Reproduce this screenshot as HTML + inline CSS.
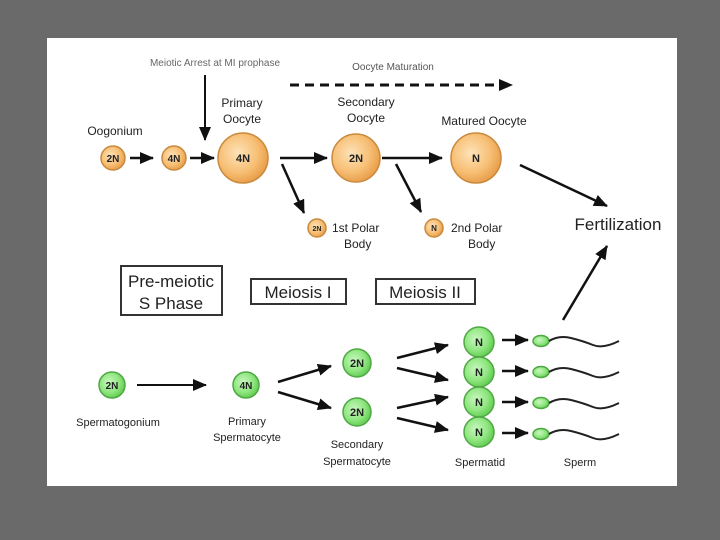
<!DOCTYPE html>
<html><head><meta charset="utf-8"><style>
html,body{margin:0;padding:0;width:720px;height:540px;overflow:hidden;background:#6a6a6a;}
svg{display:block}
text{font-family:"Liberation Sans",Arial,sans-serif;fill:#222}
</style></head><body>
<svg width="720" height="540" viewBox="0 0 720 540" xmlns="http://www.w3.org/2000/svg">
<defs>
<marker id="a" markerWidth="8" markerHeight="8" refX="7" refY="4" orient="auto" markerUnits="userSpaceOnUse"><path d="M0,0 L8,4 L0,8 z" fill="#111"/></marker>
<marker id="b" markerWidth="14" markerHeight="12" refX="13" refY="6" orient="auto" markerUnits="userSpaceOnUse"><path d="M0,0 L14,6 L0,12 z" fill="#111"/></marker>
<radialGradient id="o" cx="40%" cy="40%" r="65%"><stop offset="0" stop-color="#fde3b8"/><stop offset="0.6" stop-color="#f7bf75"/><stop offset="1" stop-color="#e79a45"/></radialGradient>
<radialGradient id="g" cx="40%" cy="40%" r="65%"><stop offset="0" stop-color="#c9f7c0"/><stop offset="0.6" stop-color="#8fe67f"/><stop offset="1" stop-color="#5cc94c"/></radialGradient>
</defs>
<rect x="47" y="38" width="630" height="448" fill="#fff"/>
<g stroke="#111" stroke-width="2.5" fill="none">
<line x1="205" y1="75" x2="205" y2="140" marker-end="url(#b)" stroke-width="2"/>
<line x1="290" y1="85" x2="512" y2="85" stroke-dasharray="9,6" marker-end="url(#b)" stroke-width="3"/>
<line x1="130" y1="158" x2="153" y2="158" marker-end="url(#b)"/>
<line x1="190" y1="158" x2="214" y2="158" marker-end="url(#b)"/>
<line x1="280" y1="158" x2="327" y2="158" marker-end="url(#b)"/>
<line x1="282" y1="164" x2="304" y2="213" marker-end="url(#b)"/>
<line x1="382" y1="158" x2="442" y2="158" marker-end="url(#b)"/>
<line x1="396" y1="164" x2="421" y2="212" marker-end="url(#b)"/>
<line x1="520" y1="165" x2="607" y2="206" marker-end="url(#b)"/>
<line x1="563" y1="320" x2="607" y2="246" marker-end="url(#b)"/>
<line x1="137" y1="385" x2="206" y2="385" marker-end="url(#b)" stroke-width="2"/>
<line x1="278" y1="382" x2="331" y2="366" marker-end="url(#b)"/>
<line x1="278" y1="392" x2="331" y2="408" marker-end="url(#b)"/>
<line x1="397" y1="358" x2="448" y2="345" marker-end="url(#b)"/>
<line x1="397" y1="368" x2="448" y2="380" marker-end="url(#b)"/>
<line x1="397" y1="408" x2="448" y2="397" marker-end="url(#b)"/>
<line x1="397" y1="418" x2="448" y2="430" marker-end="url(#b)"/>
<line x1="502" y1="340" x2="528" y2="340" marker-end="url(#b)"/>
<line x1="502" y1="371" x2="528" y2="371" marker-end="url(#b)"/>
<line x1="502" y1="402" x2="528" y2="402" marker-end="url(#b)"/>
<line x1="502" y1="433" x2="528" y2="433" marker-end="url(#b)"/>
</g>
<g stroke="#c98a3e" stroke-width="1.5" fill="url(#o)">
<circle cx="113" cy="158" r="12"/><circle cx="174" cy="158" r="12"/>
<circle cx="243" cy="158" r="25"/><circle cx="356" cy="158" r="24"/><circle cx="476" cy="158" r="25"/>
<circle cx="317" cy="228" r="9"/><circle cx="434" cy="228" r="9"/>
</g>
<g stroke="#4fa844" stroke-width="1.5" fill="url(#g)">
<circle cx="112" cy="385" r="13"/><circle cx="246" cy="385" r="13"/>
<circle cx="357" cy="363" r="14"/><circle cx="357" cy="412" r="14"/>
<circle cx="479" cy="342" r="15"/><circle cx="479" cy="372" r="15"/><circle cx="479" cy="402" r="15"/><circle cx="479" cy="432" r="15"/>
<ellipse cx="541" cy="341" rx="8" ry="5.5"/><ellipse cx="541" cy="372" rx="8" ry="5.5"/><ellipse cx="541" cy="403" rx="8" ry="5.5"/><ellipse cx="541" cy="434" rx="8" ry="5.5"/>
</g>
<g stroke="#222" stroke-width="2" fill="none">
<path d="M549,341 q10,-6 22,-3 t22,7 t26,-4"/>
<path d="M549,372 q10,-6 22,-3 t22,7 t26,-4"/>
<path d="M549,403 q10,-6 22,-3 t22,7 t26,-4"/>
<path d="M549,434 q10,-6 22,-3 t22,7 t26,-4"/>
</g>
<g font-size="11" text-anchor="middle" font-weight="bold">
<text x="113" y="162" font-size="10">2N</text><text x="174" y="162" font-size="10">4N</text>
<text x="243" y="162">4N</text><text x="356" y="162">2N</text><text x="476" y="162">N</text>
<text x="317" y="231" font-size="7" fill="#c06020">2N</text><text x="434" y="231" font-size="8" fill="#c06020">N</text>
<text x="112" y="389" font-size="10">2N</text><text x="246" y="389" font-size="10">4N</text>
<text x="357" y="367">2N</text><text x="357" y="416">2N</text>
<text x="479" y="346">N</text><text x="479" y="376">N</text><text x="479" y="406">N</text><text x="479" y="436">N</text>
</g>
<g font-size="12" text-anchor="middle">
<text x="115" y="135">Oogonium</text>
<text x="242" y="107">Primary</text><text x="242" y="123">Oocyte</text>
<text x="366" y="106">Secondary</text><text x="366" y="122">Oocyte</text>
<text x="484" y="125">Matured Oocyte</text>
<text x="118" y="426" font-size="11">Spermatogonium</text>
<text x="247" y="425" font-size="11">Primary</text><text x="247" y="441" font-size="11">Spermatocyte</text>
<text x="357" y="448" font-size="11">Secondary</text><text x="357" y="465" font-size="11">Spermatocyte</text>
<text x="480" y="466" font-size="11">Spermatid</text>
<text x="580" y="466" font-size="11">Sperm</text>
</g>
<g font-size="12">
<text x="332" y="232">1st Polar</text><text x="344" y="248">Body</text>
<text x="451" y="232">2nd Polar</text><text x="468" y="248">Body</text>
</g>
<text x="215" y="66" font-size="10" text-anchor="middle" fill="#666" style="fill:#666">Meiotic Arrest at MI prophase</text>
<text x="393" y="70" font-size="10" text-anchor="middle" style="fill:#555">Oocyte Maturation</text>
<text x="618" y="230" font-size="17" text-anchor="middle">Fertilization</text>
<g fill="none" stroke="#333" stroke-width="2">
<rect x="121" y="266" width="101" height="49"/>
<rect x="251" y="279" width="95" height="25"/>
<rect x="376" y="279" width="99" height="25"/>
</g>
<g font-size="17" text-anchor="middle">
<text x="171" y="287">Pre-meiotic</text><text x="171" y="309">S Phase</text>
<text x="298" y="298">Meiosis I</text><text x="425" y="298">Meiosis II</text>
</g>
</svg>
</body></html>
